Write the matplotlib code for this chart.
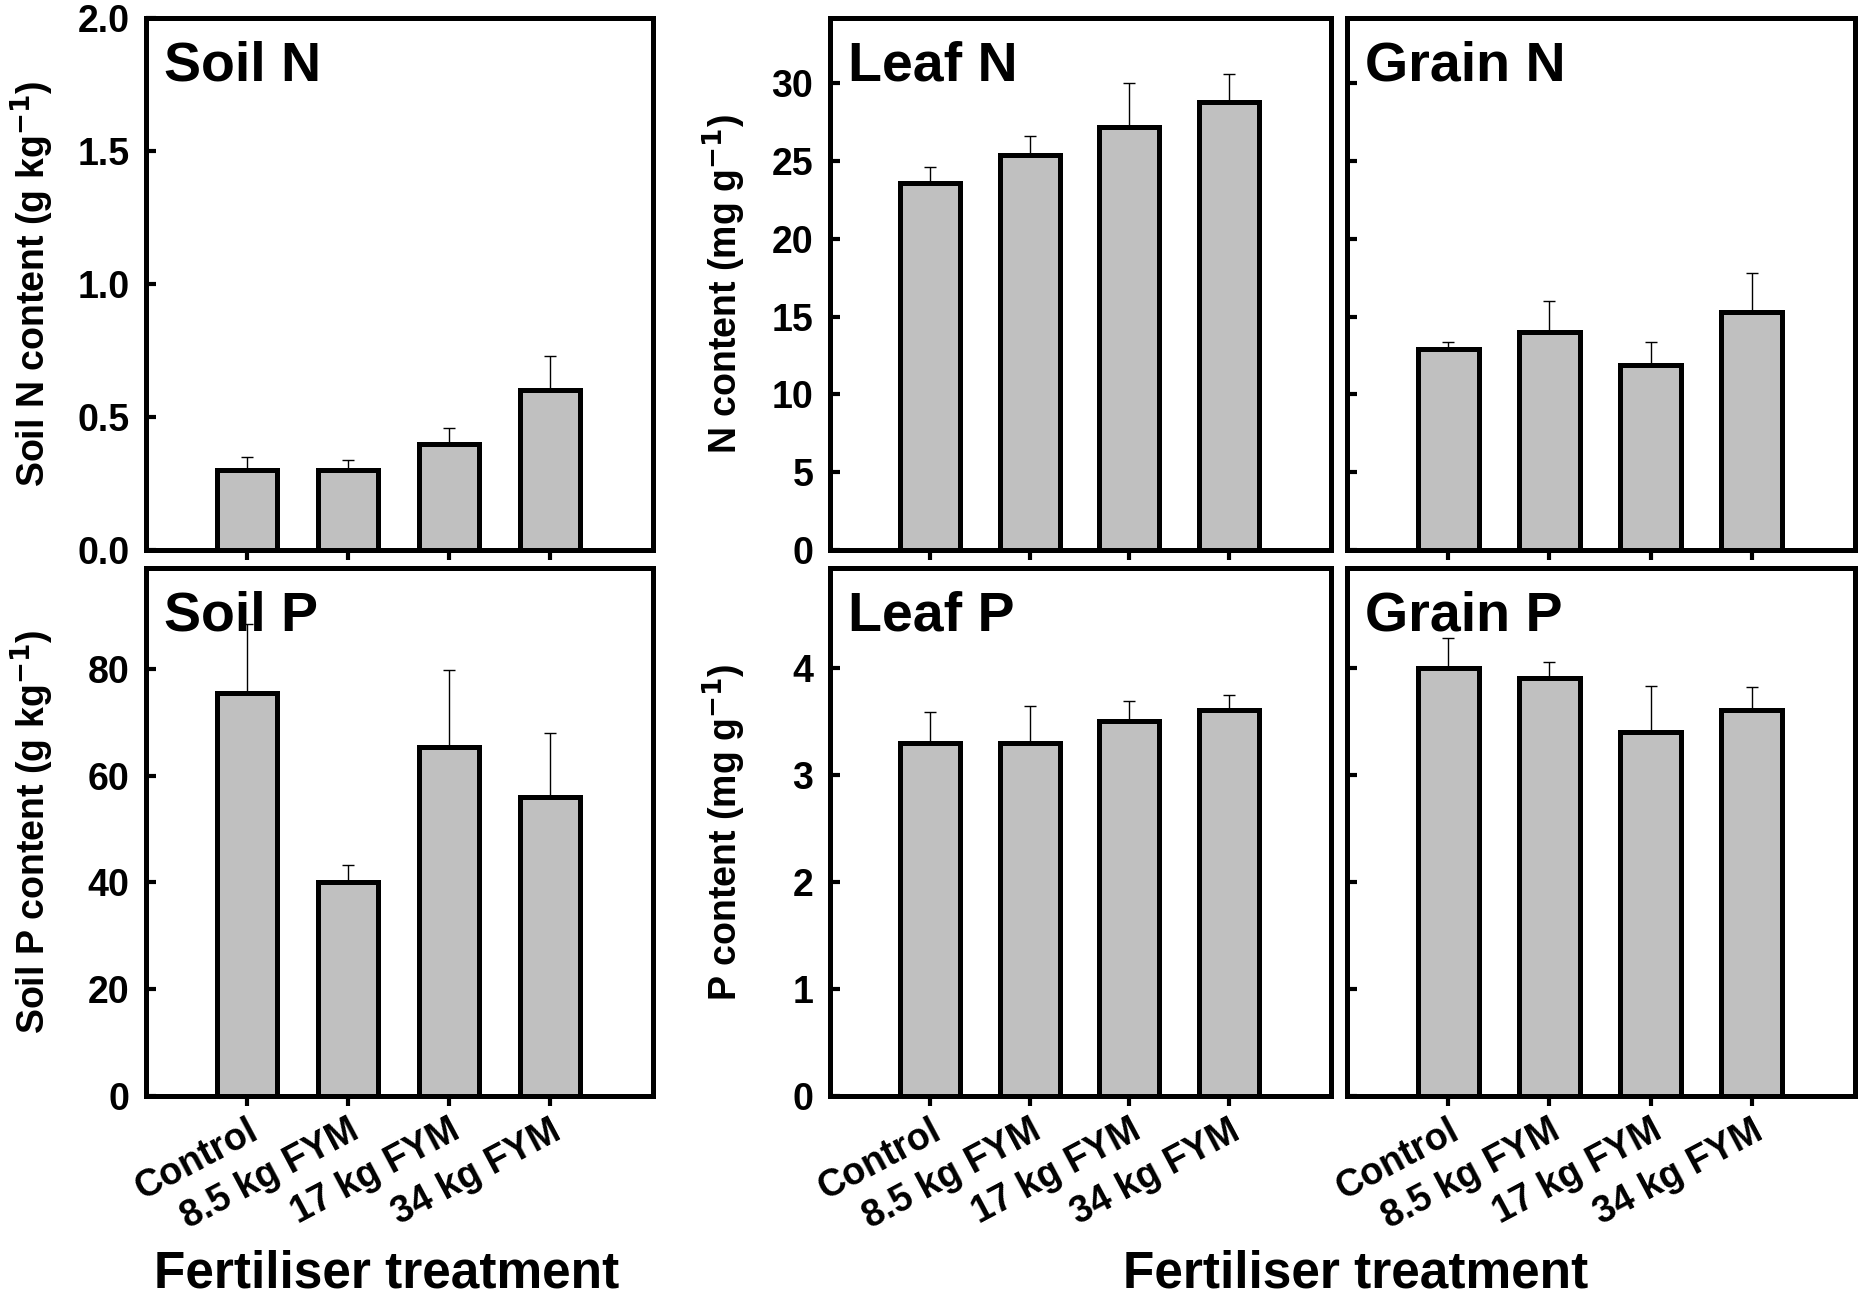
import matplotlib
matplotlib.use("Agg")
import matplotlib.pyplot as plt
import numpy as np

plt.rcParams['font.family'] = ['Liberation Sans', 'DejaVu Sans']
plt.rcParams['font.weight'] = 'bold'
plt.rcParams['mathtext.default'] = 'bf'

categories = ["Control", "8.5 kg FYM", "17 kg FYM", "34 kg FYM"]

soil_n = [0.30, 0.30, 0.40, 0.60]
soil_n_err = [0.05, 0.04, 0.06, 0.13]
soil_p = [75.5, 40.0, 65.3, 56.0]
soil_p_err = [13.0, 3.2, 14.5, 12.0]
leaf_n = [23.6, 25.4, 27.2, 28.8]
leaf_n_err = [1.05, 1.2, 2.8, 1.8]
grain_n = [12.9, 14.0, 11.9, 15.3]
grain_n_err = [0.5, 2.0, 1.5, 2.5]
leaf_p = [3.3, 3.3, 3.5, 3.6]
leaf_p_err = [0.29, 0.34, 0.19, 0.14]
grain_p = [4.0, 3.9, 3.4, 3.6]
grain_p_err = [0.28, 0.15, 0.43, 0.22]

soil_n_ticks = [0.0, 0.5, 1.0, 1.5, 2.0]
soil_n_ticklabels = ["0.0", "0.5", "1.0", "1.5", "2.0"]
soil_p_ticks = [0, 20, 40, 60, 80]
plant_n_ticks = [0, 5, 10, 15, 20, 25, 30]
plant_p_ticks = [0, 1, 2, 3, 4]

W, H = 1864, 1297
fig = plt.figure(figsize=(W / 100, H / 100), dpi=100)

col_x = [(146, 653), (830, 1331), (1347, 1855)]
row_y = [(18, 550), (568, 1096)]

def make_ax(c, r):
    x0, x1 = col_x[c]
    y0, y1 = row_y[r]
    return fig.add_axes([x0 / W, 1 - y1 / H, (x1 - x0) / W, (y1 - y0) / H])

lw = 3.6
x = np.arange(len(categories))

def draw(ax, vals, errs, ylim, yticks, yticklabels, title, ylabel=None,
         show_ylabels=True, show_xlabels=False, label_x=-0.178):
    ax.bar(x, vals, width=0.6, color='#c0c0c0', edgecolor='black',
           linewidth=lw, zorder=2)
    ax.errorbar(x, vals, yerr=[np.zeros(len(vals)), errs], fmt='none',
                ecolor='black', elinewidth=1.0, capsize=4.5, capthick=1.0,
                zorder=1)
    ax.set_xlim(-1.0, 4.02)
    ax.set_ylim(*ylim)
    for s in ax.spines.values():
        s.set_linewidth(lw)
    ax.set_yticks(yticks)
    if show_ylabels:
        ax.set_yticklabels(yticklabels, fontsize=27, fontweight='bold')
    else:
        ax.set_yticklabels([])
    ax.tick_params(axis='y', direction='in', length=7, width=3, pad=12)
    ax.tick_params(axis='x', direction='out', length=7, width=3, pad=5)
    ax.set_xticks(x)
    if show_xlabels:
        ax.set_xticklabels(categories, rotation=28, ha='right', va='top',
                           rotation_mode='anchor', fontsize=27,
                           fontweight='bold')
    else:
        ax.set_xticklabels([])
    ax.text(0.035, 0.882, title, transform=ax.transAxes, fontsize=40,
            fontweight='bold', ha='left', va='baseline')
    if ylabel:
        ax.set_ylabel(ylabel, fontsize=27, fontweight='bold')
        ax.yaxis.set_label_coords(label_x, 0.5)

ax = make_ax(0, 0)
draw(ax, soil_n, soil_n_err, (0, 2.0), soil_n_ticks, soil_n_ticklabels,
     "Soil N", r"Soil N content (g kg$^{-1}$)")
ax = make_ax(0, 1)
draw(ax, soil_p, soil_p_err, (0, 98.9), soil_p_ticks,
     [str(t) for t in soil_p_ticks], "Soil P",
     r"Soil P content (g kg$^{-1}$)", show_xlabels=True)
ax = make_ax(1, 0)
draw(ax, leaf_n, leaf_n_err, (0, 34.2), plant_n_ticks,
     [str(t) for t in plant_n_ticks], "Leaf N",
     r"N content (mg g$^{-1}$)", label_x=-0.163)
ax = make_ax(2, 0)
draw(ax, grain_n, grain_n_err, (0, 34.2), plant_n_ticks, None, "Grain N",
     show_ylabels=False)
ax = make_ax(1, 1)
draw(ax, leaf_p, leaf_p_err, (0, 4.93), plant_p_ticks,
     [str(t) for t in plant_p_ticks], "Leaf P",
     r"P content (mg g$^{-1}$)", show_xlabels=True, label_x=-0.163)
ax = make_ax(2, 1)
draw(ax, grain_p, grain_p_err, (0, 4.93), plant_p_ticks, None, "Grain P",
     show_ylabels=False, show_xlabels=True)

fig.text(0.2073, 0.007, "Fertiliser treatment", fontsize=37,
         fontweight='bold', ha='center', va='baseline')
fig.text(0.727, 0.007, "Fertiliser treatment", fontsize=37,
         fontweight='bold', ha='center', va='baseline')

fig.savefig("out.png", dpi=100)
